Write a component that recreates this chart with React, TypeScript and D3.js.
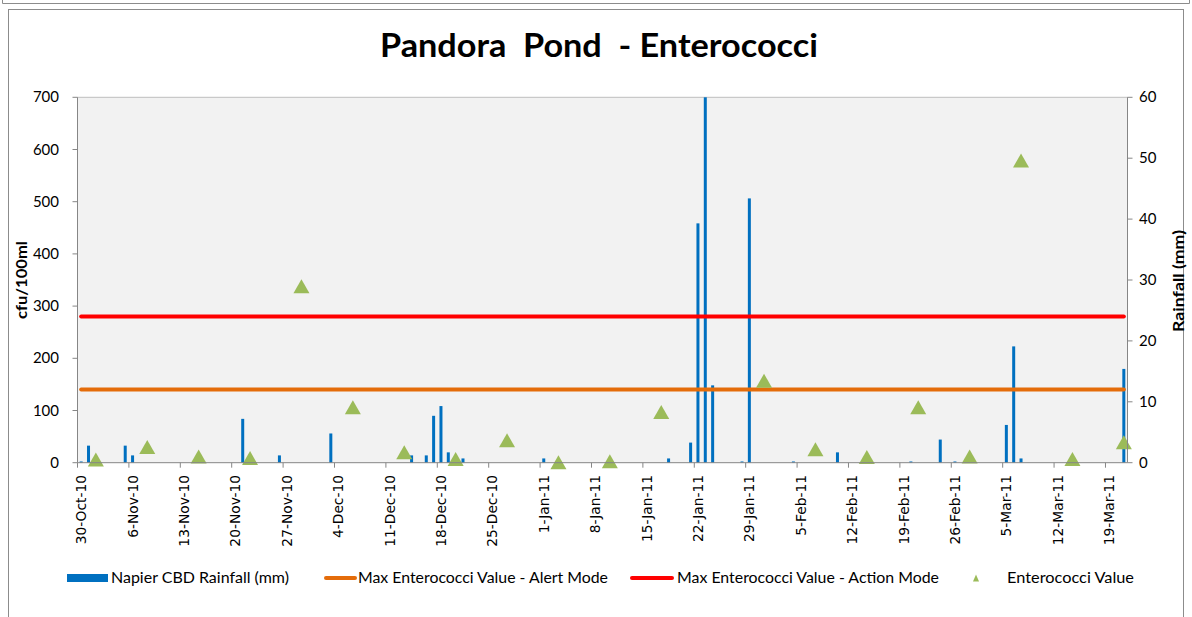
import React from "react";
import * as d3 from "d3";

// ---- data ----
const rainDates = [
  "2010-10-30", "2010-10-31", "2010-11-05", "2010-11-06", "2010-11-21", "2010-11-26",
  "2010-12-03", "2010-12-14", "2010-12-16", "2010-12-17", "2010-12-18", "2010-12-19",
  "2010-12-21", "2011-01-01", "2011-01-18", "2011-01-21", "2011-01-22", "2011-01-23",
  "2011-01-24", "2011-01-28", "2011-01-29", "2011-02-04", "2011-02-10", "2011-02-20",
  "2011-02-24", "2011-02-26", "2011-03-05", "2011-03-06", "2011-03-07", "2011-03-21",
];
const rainValues = [
  0.2, 2.8, 2.8, 1.2, 7.2, 1.2,
  4.8, 1.2, 1.2, 7.7, 9.3, 1.7,
  0.7, 0.7, 0.7, 3.3, 39.3, 60,
  12.7, 0.2, 43.4, 0.2, 1.7, 0.2,
  3.8, 0.2, 6.2, 19.1, 0.7, 15.4,
];
const enteroDates = [
  "2010-11-01", "2010-11-08", "2010-11-15", "2010-11-22", "2010-11-29", "2010-12-06",
  "2010-12-13", "2010-12-20", "2010-12-27", "2011-01-03", "2011-01-10", "2011-01-17",
  "2011-01-31", "2011-02-07", "2011-02-14", "2011-02-21", "2011-02-28", "2011-03-07",
  "2011-03-14", "2011-03-21",
];
const enteroValues = [
  6, 30, 12, 9, 338, 106,
  20, 7, 43, 1, 3, 97,
  157, 26, 11, 106, 12, 579,
  7, 39,
];
const alertValue = 140;
const actionValue = 280;
const tickLabels = [
  "30-Oct-10", "6-Nov-10", "13-Nov-10", "20-Nov-10", "27-Nov-10", "4-Dec-10",
  "11-Dec-10", "18-Dec-10", "25-Dec-10", "1-Jan-11", "8-Jan-11", "15-Jan-11",
  "22-Jan-11", "29-Jan-11", "5-Feb-11", "12-Feb-11", "19-Feb-11", "26-Feb-11",
  "5-Mar-11", "12-Mar-11", "19-Mar-11",
];
const leftTicks = [0, 100, 200, 300, 400, 500, 600, 700];
const rightTicks = [0, 10, 20, 30, 40, 50, 60];
const startDate = "2010-10-30";
const endDate = "2011-03-22";

export default function App() {
  const W = 1192, H = 617;
  const left = 77.5, right = 1127.5, top = 97.3, bottom = 462.7;
  const parse = d3.timeParse("%Y-%m-%d");
  const d0 = parse(startDate)!;
  const nDays = d3.timeDay.count(d0, parse(endDate)!);
  const x = d3.scaleLinear().domain([0, nDays]).range([left, right]);
  const dayIdx = (s: string) => d3.timeDay.count(d0, parse(s)!);
  const xc = (s: string) => x(dayIdx(s) + 0.5);
  const yL = d3.scaleLinear().domain([0, 700]).range([bottom, top]);
  const yR = d3.scaleLinear().domain([0, 60]).range([bottom, top]);
  const axisColor = "#868686";
  const font = "Lato, 'Open Sans', sans-serif";
  const tri = "M0,-7L8,7L-8,7Z";
  const firstC = x(0.5);
  const lastC = x(nDays - 0.5);

  return (
    <div style={{ position: "fixed", left: 0, top: 0, width: W, height: H, background: "#fff" }}>
      <svg width={W} height={H} style={{ display: "block" }}>
        <rect x={0} y={0} width={W} height={H} fill="#fff" />
        {/* frames */}
        <path d={`M2.5,0V3.5H1189.5V0`} fill="none" stroke="#8c8c8c" strokeWidth={1} />
        <rect x={8.5} y={9.5} width={1175} height={640} fill="#fff" stroke="#8c8c8c" strokeWidth={1} />
        {/* title */}
        <text x={599} y={57} textAnchor="middle" fontFamily={font} fontWeight={700} fontSize={32}
          textLength={438} lengthAdjust="spacingAndGlyphs"
          style={{ whiteSpace: "pre" }} fill="#000">Pandora  Pond  - Enterococci</text>
        {/* plot area */}
        <rect x={left} y={top} width={right - left} height={bottom - top} fill="#F2F2F2" />
        <line x1={left} x2={right} y1={top} y2={top} stroke="#BFBFBF" strokeWidth={1} />
        {/* rain bars */}
        {rainDates.map((d, i) => {
          const v = Math.min(rainValues[i], 60);
          return (
            <rect key={"r" + i} x={xc(d) - 1.5} width={3} y={yR(v)} height={bottom - yR(v)} fill="#0070C0" />
          );
        })}
        {/* threshold lines */}
        <line x1={firstC} x2={lastC} y1={yL(alertValue)} y2={yL(alertValue)} stroke="#E46C0A" strokeWidth={4} strokeLinecap="round" />
        <line x1={firstC} x2={lastC} y1={yL(actionValue)} y2={yL(actionValue)} stroke="#FF0000" strokeWidth={4} strokeLinecap="round" />
        {/* triangles */}
        {enteroDates.map((d, i) => (
          <path key={"t" + i} d={tri} transform={`translate(${xc(d)},${yL(enteroValues[i])})`} fill="#9BBB59" />
        ))}
        {/* axes */}
        <line x1={left} x2={left} y1={top} y2={bottom} stroke={axisColor} />
        <line x1={right} x2={right} y1={top} y2={bottom} stroke={axisColor} />
        <line x1={left} x2={right} y1={bottom} y2={bottom} stroke={axisColor} />
        {leftTicks.map((t) => (
          <g key={"lt" + t}>
            <line x1={left - 5} x2={left} y1={yL(t)} y2={yL(t)} stroke={axisColor} />
            <text x={59} y={yL(t) + 5} textAnchor="end" fontFamily={font} fontSize={15} fill="#000">{t}</text>
          </g>
        ))}
        {rightTicks.map((t) => (
          <g key={"rt" + t}>
            <line x1={right} x2={right + 5} y1={yR(t)} y2={yR(t)} stroke={axisColor} />
            <text x={1139} y={yR(t) + 5} textAnchor="start" fontFamily={font} fontSize={15} fill="#000">{t}</text>
          </g>
        ))}
        {tickLabels.map((lab, i) => {
          const tx = x(i * 7);
          const lx = x(i * 7 + 0.5);
          return (
            <g key={"xt" + i}>
              <line x1={tx} x2={tx} y1={bottom} y2={bottom + 5} stroke={axisColor} />
              <text transform={`translate(${lx + 5},${475}) rotate(-90)`} textAnchor="end"
                fontFamily="'DejaVu Sans', sans-serif" fontSize={13.8} fill="#000">{lab}</text>
            </g>
          );
        })}
        {/* axis titles */}
        <text transform={`translate(27,280) rotate(-90)`} textAnchor="middle" fontFamily={font} fontWeight={700} fontSize={16}
          textLength={78} lengthAdjust="spacingAndGlyphs" fill="#000">cfu/100ml</text>
        <text transform={`translate(1184,281) rotate(-90)`} textAnchor="middle" fontFamily={font} fontWeight={700} fontSize={16}
          textLength={102} lengthAdjust="spacingAndGlyphs" fill="#000">Rainfall (mm)</text>
        {/* legend */}
        <rect x={67} y={574} width={41} height={8} fill="#0070C0" />
        <text x={111} y={583} fontFamily={font} fontSize={15} textLength={178} lengthAdjust="spacingAndGlyphs" fill="#000">Napier CBD Rainfall (mm)</text>
        <line x1={326} x2={355} y1={578} y2={578} stroke="#E46C0A" strokeWidth={4} strokeLinecap="round" />
        <text x={358} y={583} fontFamily={font} fontSize={15} textLength={250} lengthAdjust="spacingAndGlyphs" fill="#000">Max Enterococci Value - Alert Mode</text>
        <line x1={632} x2={672} y1={578} y2={578} stroke="#FF0000" strokeWidth={4} strokeLinecap="round" />
        <text x={677} y={583} fontFamily={font} fontSize={15} textLength={262} lengthAdjust="spacingAndGlyphs" fill="#000">Max Enterococci Value - Action Mode</text>
        <path d="M0,-3.5L3,3.5L-3,3.5Z" transform="translate(976,578)" fill="#9BBB59" />
        <text x={1007} y={583} fontFamily={font} fontSize={15} textLength={127} lengthAdjust="spacingAndGlyphs" fill="#000">Enterococci Value</text>
      </svg>
    </div>
  );
}
